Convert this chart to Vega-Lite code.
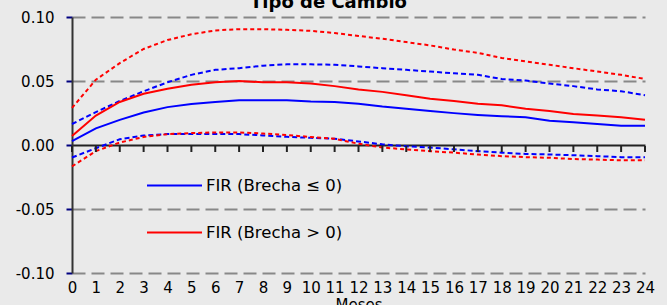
{
  "$schema": "https://vega.github.io/schema/vega-lite/v6.json",
  "autosize": {"type": "none"},
  "width": 573,
  "height": 256,
  "padding": {"left": 72, "top": 17, "right": 22, "bottom": 32},
  "background": "#eaeaea",
  "title": {"text": "Tipo de Cambio", "font": "DejaVu Sans", "fontSize": 18, "fontWeight": "bold", "color": "#000000", "anchor": "middle", "baseline": "alphabetic", "offset": 0, "dy": 16, "dx": -30},
  "config": {
    "view": {"stroke": null},
    "font": "DejaVu Sans",
    "axis": {"domainColor": "#333333", "domainWidth": 2, "tickColor": "#000080", "tickWidth": 2, "tickSize": 6, "labelColor": "#000000", "labelFont": "DejaVu Sans", "labelFontSize": 15},
    "legend": {"orient": "none", "legendX": 74, "legendY": 140, "title": null, "symbolType": "stroke", "symbolSize": 3025, "symbolStrokeWidth": 2, "labelFont": "DejaVu Sans", "labelFontSize": 16.5, "labelColor": "#000000", "labelOffset": 3, "rowPadding": 10, "padding": 0}
  },
  "data": {"values": [
    {"mes": 0, "bc": 0.003, "bu": 0.0164, "bl": -0.0098, "rc": 0.007, "ru": 0.029, "rl": -0.0167},
    {"mes": 1, "bc": 0.013, "bu": 0.0257, "bl": -0.0025, "rc": 0.023, "ru": 0.051, "rl": -0.0048},
    {"mes": 2, "bc": 0.0196, "bu": 0.0344, "bl": 0.0045, "rc": 0.0336, "ru": 0.064, "rl": 0.0019},
    {"mes": 3, "bc": 0.0254, "bu": 0.042, "bl": 0.0074, "rc": 0.040, "ru": 0.075, "rl": 0.0063},
    {"mes": 4, "bc": 0.0296, "bu": 0.049, "bl": 0.0085, "rc": 0.044, "ru": 0.082, "rl": 0.0085},
    {"mes": 5, "bc": 0.032, "bu": 0.0548, "bl": 0.0085, "rc": 0.047, "ru": 0.0865, "rl": 0.0093},
    {"mes": 6, "bc": 0.0336, "bu": 0.0587, "bl": 0.0085, "rc": 0.049, "ru": 0.0895, "rl": 0.0098},
    {"mes": 7, "bc": 0.035, "bu": 0.060, "bl": 0.0085, "rc": 0.050, "ru": 0.0905, "rl": 0.0098},
    {"mes": 8, "bc": 0.035, "bu": 0.062, "bl": 0.0075, "rc": 0.049, "ru": 0.0905, "rl": 0.009},
    {"mes": 9, "bc": 0.035, "bu": 0.063, "bl": 0.0064, "rc": 0.049, "ru": 0.090, "rl": 0.0077},
    {"mes": 10, "bc": 0.034, "bu": 0.063, "bl": 0.0056, "rc": 0.048, "ru": 0.0892, "rl": 0.0063},
    {"mes": 11, "bc": 0.0336, "bu": 0.0627, "bl": 0.0049, "rc": 0.046, "ru": 0.0875, "rl": 0.0048},
    {"mes": 12, "bc": 0.0323, "bu": 0.0614, "bl": 0.0028, "rc": 0.0434, "ru": 0.0852, "rl": 0.001},
    {"mes": 13, "bc": 0.030, "bu": 0.060, "bl": 0.0005, "rc": 0.0415, "ru": 0.083, "rl": -0.002},
    {"mes": 14, "bc": 0.0283, "bu": 0.0587, "bl": -0.001, "rc": 0.0389, "ru": 0.0804, "rl": -0.0034},
    {"mes": 15, "bc": 0.0265, "bu": 0.0574, "bl": -0.002, "rc": 0.0362, "ru": 0.0778, "rl": -0.0048},
    {"mes": 16, "bc": 0.0249, "bu": 0.056, "bl": -0.0034, "rc": 0.0344, "ru": 0.0746, "rl": -0.006},
    {"mes": 17, "bc": 0.0235, "bu": 0.0548, "bl": -0.0048, "rc": 0.0323, "ru": 0.072, "rl": -0.0074},
    {"mes": 18, "bc": 0.0225, "bu": 0.0516, "bl": -0.006, "rc": 0.031, "ru": 0.068, "rl": -0.0087},
    {"mes": 19, "bc": 0.0217, "bu": 0.0503, "bl": -0.007, "rc": 0.0283, "ru": 0.0653, "rl": -0.0095},
    {"mes": 20, "bc": 0.019, "bu": 0.048, "bl": -0.0074, "rc": 0.0265, "ru": 0.0627, "rl": -0.010},
    {"mes": 21, "bc": 0.0177, "bu": 0.046, "bl": -0.008, "rc": 0.0243, "ru": 0.060, "rl": -0.011},
    {"mes": 22, "bc": 0.0164, "bu": 0.0434, "bl": -0.0087, "rc": 0.023, "ru": 0.0574, "rl": -0.0114},
    {"mes": 23, "bc": 0.015, "bu": 0.042, "bl": -0.0095, "rc": 0.0217, "ru": 0.0548, "rl": -0.012},
    {"mes": 24, "bc": 0.015, "bu": 0.0389, "bl": -0.0095, "rc": 0.0198, "ru": 0.0516, "rl": -0.012}
  ]},
  "encoding": {
    "x": {"field": "mes", "type": "quantitative", "scale": {"domain": [0, 24], "nice": false, "zero": false},
      "axis": {"orient": "bottom", "values": [0,1,2,3,4,5,6,7,8,9,10,11,12,13,14,15,16,17,18,19,20,21,22,23,24], "domain": false, "ticks": false, "grid": false, "labelPadding": 7, "labelFlush": false, "labelOverlap": false, "title": "Meses", "titleFont": "DejaVu Sans", "titleFontSize": 15, "titleFontWeight": "normal", "titleColor": "#000000", "titlePadding": 2}}
  },
  "layer": [
    {
      "mark": {"type": "line", "color": "#0000ff", "strokeWidth": 2, "strokeDash": [5, 3]},
      "encoding": {"y": {"field": "bu", "type": "quantitative", "scale": {"domain": [-0.1, 0.1], "nice": false},
          "axis": {"values": [-0.1, -0.05, 0, 0.05, 0.1], "labelExpr": "datum.value < -0.0001 ? '-' + format(-datum.value, '.2f') : format(abs(datum.value), '.2f')", "domain": true, "ticks": true, "grid": true,
            "gridColor": {"condition": {"test": "abs(datum.value) < 0.0001", "value": "#222222"}, "value": "#888888"},
            "gridDash": {"condition": {"test": "abs(datum.value) < 0.0001", "value": []}, "value": [13, 6]},
            "gridWidth": 2, "labelPadding": 12, "title": null}}}
    },
    {
      "mark": {"type": "line", "color": "#0000ff", "strokeWidth": 2, "strokeDash": [5, 3]},
      "encoding": {"y": {"field": "bl", "type": "quantitative"}}
    },
    {
      "mark": {"type": "line", "color": "#ff0000", "strokeWidth": 2, "strokeDash": [4, 3]},
      "encoding": {"y": {"field": "ru", "type": "quantitative"}}
    },
    {
      "mark": {"type": "line", "color": "#ff0000", "strokeWidth": 2, "strokeDash": [4, 3]},
      "encoding": {"y": {"field": "rl", "type": "quantitative"}}
    },
    {
      "mark": {"type": "line", "strokeWidth": 2},
      "encoding": {
        "y": {"field": "bc", "type": "quantitative"},
        "color": {"datum": "FIR (Brecha ≤ 0)", "scale": {"domain": ["FIR (Brecha ≤ 0)", "FIR (Brecha > 0)"], "range": ["#0000ff", "#ff0000"]}}
      }
    },
    {
      "mark": {"type": "line", "strokeWidth": 2},
      "encoding": {
        "y": {"field": "rc", "type": "quantitative"},
        "color": {"datum": "FIR (Brecha > 0)"}
      }
    },
    {
      "mark": {"type": "tick", "orient": "vertical", "color": "#222222", "size": 6, "thickness": 2, "yOffset": 4, "opacity": 1},
      "encoding": {
        "y": {"datum": 0, "type": "quantitative"}
      }
    }
  ]
}
